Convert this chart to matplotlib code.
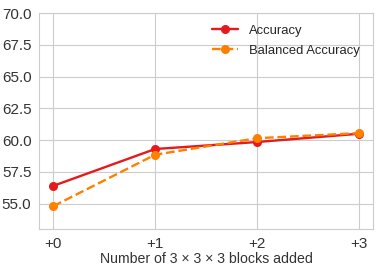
import matplotlib

matplotlib.use("Agg")
import matplotlib.pyplot as plt
import seaborn as sns

sns.set_style("whitegrid")
plt.rcParams["font.family"] = ["Liberation Sans", "DejaVu Sans"]

blocks = [0, 1, 2, 3]
tick_labels = ["+0", "+1", "+2", "+3"]
accuracy = [56.4, 59.3, 59.85, 60.5]
balanced_accuracy = [54.8, 58.85, 60.15, 60.55]

fig, ax = plt.subplots(figsize=(3.79, 2.73), dpi=100)
ax.plot(blocks, accuracy, "-o", color="#e41a1c", lw=1.7, ms=5.5, label="Accuracy")
ax.plot(blocks, balanced_accuracy, "--o", color="#ff7f00", lw=1.7, ms=5.5,
        label="Balanced Accuracy")

ax.set_xticks(blocks)
ax.set_xticklabels(tick_labels)
ax.set_xlim(-0.14, 3.14)
ax.set_ylim(53.0, 70.0)
ax.set_yticks([55.0, 57.5, 60.0, 62.5, 65.0, 67.5, 70.0])
ax.tick_params(axis="y", labelsize=11, colors="#333333", pad=2)
ax.tick_params(axis="x", labelsize=11, colors="#333333", pad=2)
ax.set_xlabel("Number of 3 \u00d7 3 \u00d7 3 blocks added", fontsize=10.2,
              color="#333333", labelpad=1)
ax.legend(loc="upper right", fontsize=9.4, frameon=False,
          bbox_to_anchor=(0.997, 1.0), handlelength=2.0, handletextpad=0.9,
          labelspacing=0.6)

fig.subplots_adjust(left=0.103, right=0.984, top=0.952, bottom=0.161)
fig.savefig("out.png")
